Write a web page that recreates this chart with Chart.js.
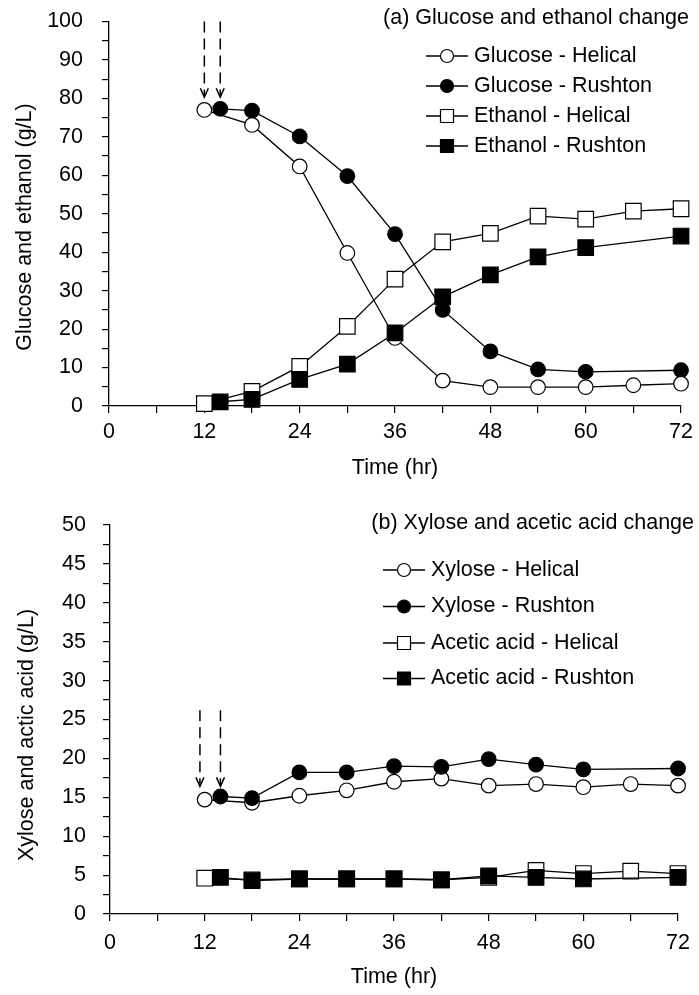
<!DOCTYPE html>
<html>
<head>
<meta charset="utf-8">
<script src="https://cdn.jsdelivr.net/npm/chart.js@4.4.1/dist/chart.umd.min.js"></script>
<style>
  html, body { margin: 0; padding: 0; background: #fff; }
  .panel { position: absolute; left: 0; width: 699px; }
  #panelA { top: 0; height: 495px; }
  #panelB { top: 495px; height: 500px; }
</style>
</head>
<body>
<div class="panel" id="panelA"><canvas id="chartA"></canvas></div>
<div class="panel" id="panelB"><canvas id="chartB"></canvas></div>
<script>
// sampling times (hr)
const helicalTimes = [12, 18, 24, 30, 36, 42, 48, 54, 60, 66, 72];
const rushtonTimes = [14, 18, 24, 30, 36, 42, 48, 54, 60, 72];

// (a) glucose and ethanol, g/L
const glucoseHelical = [77.0, 73.1, 62.3, 39.8, 17.7, 6.6, 4.9, 4.9, 4.9, 5.4, 5.8];
const glucoseRushton = [77.3, 76.8, 70.1, 59.8, 44.7, 25.0, 14.2, 9.5, 8.9, 9.3];
const ethanolHelical = [0.6, 3.8, 10.3, 20.7, 33.0, 42.7, 44.9, 49.4, 48.6, 50.7, 51.3];
const ethanolRushton = [1.1, 1.7, 6.9, 10.9, 19.0, 28.4, 34.1, 38.8, 41.2, 44.2];

// (b) xylose and acetic acid, g/L
const xyloseHelical = [14.7, 14.3, 15.2, 15.9, 17.0, 17.4, 16.5, 16.7, 16.3, 16.7, 16.5];
const xyloseRushton = [15.1, 14.9, 18.2, 18.2, 19.0, 18.9, 19.9, 19.2, 18.6, 18.7];
const aceticHelical = [4.6, 4.4, 4.5, 4.5, 4.5, 4.4, 4.7, 5.6, 5.2, 5.5, 5.2];
const aceticRushton = [4.7, 4.3, 4.5, 4.5, 4.5, 4.4, 4.9, 4.7, 4.5, 4.7];

// axis ranges / tick steps
const xMax = 72, xStep = 6, xLabelStep = 12;
const yMaxA = 100, yStepA = 5, yLabelStepA = 10;
const yMaxB = 50, yStepB = 2.5, yLabelStepB = 5;

// inoculation arrows: times and the value range they span
const arrowTimesA = [12, 14];
const arrowSpanA = [100, 80.3];
const arrowTimesB = [11.4, 14];
const arrowSpanB = [26.2, 16.4];

const FONT = "'Liberation Sans', Arial, sans-serif";
const FS = 21.5;
Chart.defaults.color = '#000';
Chart.defaults.font.family = FONT;
Chart.defaults.font.size = FS;

function series(times, values) {
    return times.map((t, i) => ({ x: t, y: values[i] }));
}

function ds(label, times, values, shape, filled) {
    return {
        label: label,
        data: series(times, values),
        borderColor: '#000',
        borderWidth: 1.3,
        backgroundColor: filled ? '#000' : '#fff',
        pointStyle: shape,
        pointRadius: shape === 'rect' ? 11 : 7.3,
        pointBorderWidth: 1.2,
        pointBorderColor: '#000',
        pointBackgroundColor: filled ? '#000' : '#fff',
        tension: 0,
        clip: false
    };
}

// dashed arrows pointing at the first samples
const arrowPlugin = {
    id: 'arrows',
    afterDatasetsDraw(chart, args, opts) {
        const { ctx, scales: { x, y } } = chart;
        ctx.save();
        ctx.strokeStyle = '#000';
        ctx.lineWidth = 1.5;
        opts.times.forEach(t => {
            const px = x.getPixelForValue(t);
            const y1 = y.getPixelForValue(opts.span[0]);
            const y2 = y.getPixelForValue(opts.span[1]);
            ctx.setLineDash([11, 6]);
            ctx.beginPath();
            ctx.moveTo(px, y1);
            ctx.lineTo(px, y2 - 2);
            ctx.stroke();
            ctx.setLineDash([]);
            ctx.beginPath();
            ctx.moveTo(px - 4, y2 - 9);
            ctx.lineTo(px, y2);
            ctx.lineTo(px + 4, y2 - 9);
            ctx.stroke();
        });
        ctx.restore();
    }
};

// panel title, legend and the rotated y-axis title
const legendPlugin = {
    id: 'panelLegend',
    afterDraw(chart, args, opts) {
        const ctx = chart.ctx;
        ctx.save();
        ctx.fillStyle = '#000';
        ctx.font = FS + 'px ' + FONT;
        ctx.textBaseline = 'middle';

        ctx.save();
        ctx.translate(opts.yTitleX, opts.yTitleY);
        ctx.rotate(-Math.PI / 2);
        ctx.textAlign = 'center';
        ctx.fillText(opts.yTitle, 0, 0);
        ctx.restore();

        ctx.textAlign = 'right';
        ctx.fillText(opts.title, opts.titleX, opts.titleY);
        ctx.textAlign = 'left';
        chart.data.datasets.slice().sort((a, b) => a.legendIndex - b.legendIndex).forEach((d, i) => {
            const cy = opts.rowY[i];
            const cx = opts.markerX;
            ctx.strokeStyle = '#000';
            ctx.lineWidth = 1.3;
            ctx.beginPath();
            ctx.moveTo(cx - 21, cy);
            ctx.lineTo(cx + 21, cy);
            ctx.stroke();
            ctx.lineWidth = 1.2;
            ctx.fillStyle = d.pointBackgroundColor;
            ctx.beginPath();
            if (d.pointStyle === 'rect') {
                ctx.rect(cx - 6.5, cy - 6.5, 13, 13);
            } else {
                ctx.arc(cx, cy, 6.5, 0, Math.PI * 2);
            }
            ctx.fill();
            ctx.stroke();
            ctx.fillStyle = '#000';
            ctx.fillText(d.label, cx + 27, cy);
        });
        ctx.restore();
    }
};

function makeChart(id, cfg) {
    const tickFilter = step => v => (Math.abs(v / step - Math.round(v / step)) < 1e-6 ? String(v) : '');
    const buildTicks = (max, step) => scale => {
        const ticks = [];
        for (let v = 0; v <= max + 1e-9; v += step) ticks.push({ value: Math.round(v * 100) / 100 });
        scale.ticks = ticks;
    };
    return new Chart(document.getElementById(id), {
        type: 'line',
        data: { datasets: cfg.datasets },
        options: {
            responsive: true,
            maintainAspectRatio: false,
            animation: false,
            devicePixelRatio: 1,
            layout: { autoPadding: false, padding: { top: cfg.plotTop, right: 16, left: 0, bottom: 0 } },
            plugins: {
                legend: { display: false },
                tooltip: { enabled: false },
                arrows: { times: cfg.arrowTimes, span: cfg.arrowSpan },
                panelLegend: cfg.legend
            },
            scales: {
                x: {
                    type: 'linear',
                    min: 0,
                    max: xMax,
                    afterBuildTicks: buildTicks(xMax, xStep),
                    afterFit: s => { s.height = cfg.xHeight; },
                    ticks: {
                        autoSkip: false,
                        maxRotation: 0,
                        padding: cfg.xPad,
                        callback: tickFilter(xLabelStep)
                    },
                    grid: { drawOnChartArea: false, drawTicks: true, tickLength: 7, color: '#000', lineWidth: 1.2 },
                    border: { color: '#000', width: 1.3 },
                    title: { display: true, text: 'Time (hr)', padding: { top: 0, bottom: cfg.xTitlePad } }
                },
                y: {
                    type: 'linear',
                    min: 0,
                    max: cfg.yMax,
                    afterBuildTicks: buildTicks(cfg.yMax, cfg.yStep),
                    // fixed width; label overhang must not push the plot down
                    afterFit: s => {
                        s.width = cfg.yWidth;
                        s.paddingTop = 0;
                        s.paddingBottom = 0;
                    },
                    ticks: {
                        autoSkip: false,
                        padding: cfg.yPad,
                        callback: tickFilter(cfg.yLabelStep)
                    },
                    grid: { drawOnChartArea: false, drawTicks: true, tickLength: 7, color: '#000', lineWidth: 1.2 },
                    border: { color: '#000', width: 1.3 },
                    title: { display: false }
                }
            }
        },
        plugins: [arrowPlugin, legendPlugin]
    });
}

// first dataset is painted last (on top)
const setsA = [
    Object.assign(ds('Ethanol - Rushton', rushtonTimes, ethanolRushton, 'rect', true), { legendIndex: 3 }),
    Object.assign(ds('Ethanol - Helical', helicalTimes, ethanolHelical, 'rect', false), { legendIndex: 2 }),
    Object.assign(ds('Glucose - Helical', helicalTimes, glucoseHelical, 'circle', false), { legendIndex: 0 }),
    Object.assign(ds('Glucose - Rushton', rushtonTimes, glucoseRushton, 'circle', true), { legendIndex: 1 })
];

const setsB = [
    Object.assign(ds('Acetic acid - Rushton', rushtonTimes, aceticRushton, 'rect', true), { legendIndex: 3 }),
    Object.assign(ds('Acetic acid - Helical', helicalTimes, aceticHelical, 'rect', false), { legendIndex: 2 }),
    Object.assign(ds('Xylose - Rushton', rushtonTimes, xyloseRushton, 'circle', true), { legendIndex: 1 }),
    Object.assign(ds('Xylose - Helical', helicalTimes, xyloseHelical, 'circle', false), { legendIndex: 0 })
];

makeChart('chartA', {
    datasets: setsA,
    plotTop: 21.5,
    yMax: yMaxA, yStep: yStepA, yLabelStep: yLabelStepA,
    xHeight: 89, yWidth: 109,
    xPad: 6, yPad: 19,
    xTitlePad: 14,
    arrowTimes: arrowTimesA, arrowSpan: arrowSpanA,
    legend: {
        title: '(a) Glucose and ethanol change', titleX: 689, titleY: 18,
        markerX: 447, rowY: [56, 86, 116, 146],
        yTitle: 'Glucose and ethanol (g/L)', yTitleX: 25, yTitleY: 227
    }
});

makeChart('chartB', {
    datasets: setsB,
    plotTop: 30,
    yMax: yMaxB, yStep: yStepB, yLabelStep: yLabelStepB,
    xHeight: 81, yWidth: 110,
    xPad: 9, yPad: 17,
    xTitlePad: 5,
    arrowTimes: arrowTimesB, arrowSpan: arrowSpanB,
    legend: {
        title: '(b) Xylose and acetic acid change', titleX: 694, titleY: 28,
        markerX: 404, rowY: [75, 111.5, 148, 183.5],
        yTitle: 'Xylose and actic acid (g/L)', yTitleX: 27, yTitleY: 240
    }
});
</script>
</body>
</html>
